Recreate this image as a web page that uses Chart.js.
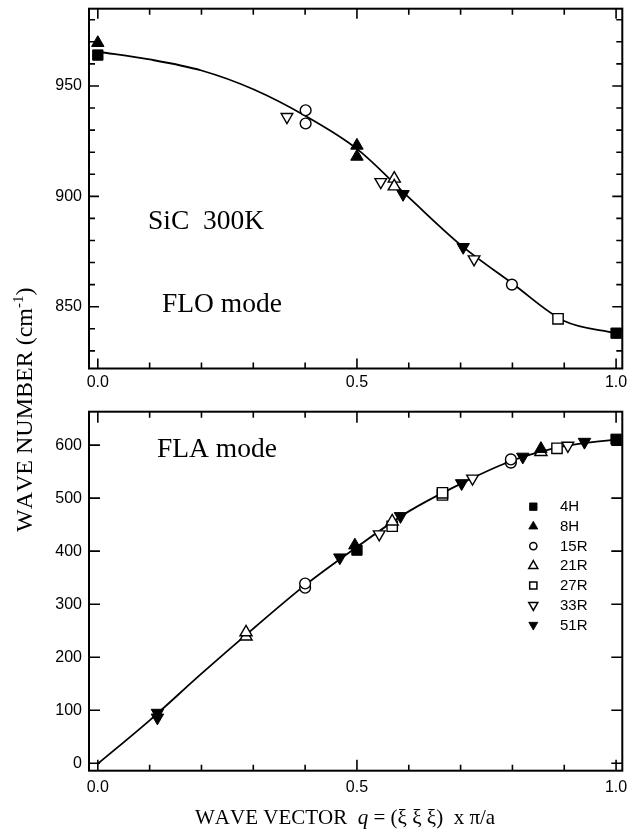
<!DOCTYPE html>
<html><head><meta charset="utf-8">
<script src="https://cdn.jsdelivr.net/npm/chart.js@4.4.1/dist/chart.umd.min.js"></script>
<style>
html,body{margin:0;padding:0;background:#fff;}
#wrap{position:relative;width:631px;height:833px;overflow:hidden;background:#fff;}
canvas{position:absolute;left:0;}
.ttl{position:absolute;font-family:"Liberation Serif","Times New Roman",serif;color:#000;white-space:nowrap;font-kerning:none;}
</style></head>
<body><div id="wrap">
<canvas id="c1" width="631" height="400" style="top:0px"></canvas>
<canvas id="c2" width="631" height="433" style="top:400px"></canvas>
<div id="ytitle" class="ttl" style="font-size:24px;line-height:24px;">WAVE NUMBER (cm<span style="font-size:15px;position:relative;top:-9px">-1</span>)</div>
<div id="xtitle" class="ttl" style="font-size:21px;line-height:21px;">WAVE VECTOR&nbsp;&nbsp;<i>q</i> = (ξ ξ ξ)&nbsp;&nbsp;x π/a</div>
</div>
<script>
// ---------- data ----------
const qGrid = [0, 0.1, 0.2, 0.3, 0.4, 0.5, 0.6, 0.7, 0.8, 0.9, 1.0];
const floFit = [965.5, 962, 957, 948.5, 936.5, 921.5, 899.5, 878, 860.5, 843.5, 838];
const flaFit = [-1, 81, 169, 254, 336, 408, 475, 527, 571, 598, 611];

const seriesNames = ['4H', '8H', '15R', '21R', '27R', '33R', '51R'];

const flo4H  = [[0, 964], [1.0, 838]];
const flo8H  = [[0, 969.5], [0.5, 923], [0.5, 918]];
const flo15R = [[0.401, 939], [0.401, 933], [0.799, 860]];
const flo21R = [[0.572, 908], [0.572, 904.5]];
const flo27R = [[0.888, 844.5]];
const flo33R = [[0.365, 936], [0.546, 906.5], [0.726, 871.5]];
const flo51R = [[0.589, 901], [0.705, 877]];

const fla4H  = [[0.5, 402], [1.0, 611]];
const fla8H  = [[0.496, 411], [0.855, 593]];
const fla15R = [[0.4, 331], [0.4, 339], [0.797, 567], [0.797, 573]];
const fla21R = [[0.286, 239], [0.286, 247], [0.568, 456], [0.855, 587]];
const fla27R = [[0.568, 447], [0.665, 506], [0.665, 510], [0.886, 594]];
const fla33R = [[0.543, 432], [0.723, 537], [0.907, 599]];
const fla51R = [[0.115, 86], [0.115, 95], [0.467, 388], [0.584, 466], [0.702, 528], [0.820, 578], [0.939, 606]];

const xTickLabels = [0, 0.5, 1.0];
const xTickMarks = [0, 0.1, 0.2, 0.3, 0.4, 0.5, 0.6, 0.7, 0.8, 0.9, 1.0];
const floYTickLabels = [850, 900, 950];
const floYTickMarks = [830, 840, 850, 860, 870, 880, 890, 900, 910, 920, 930, 940, 950, 960, 970, 980];
const flaYTickLabels = [0, 100, 200, 300, 400, 500, 600];
const flaYTickMarks = [0, 100, 200, 300, 400, 500, 600];

// ---------- styles ----------
const markerStyle = {
  '4H':  {pointStyle: 'rect',     rotation: 0,   filled: true,  r: 7.3, lr: 5.3},
  '8H':  {pointStyle: 'triangle', rotation: 0,   filled: true,  r: 7.2, lr: 5.2},
  '15R': {pointStyle: 'circle',   rotation: 0,   filled: false, r: 5.4, lr: 3.6},
  '21R': {pointStyle: 'triangle', rotation: 0,   filled: false, r: 7,   lr: 5.2},
  '27R': {pointStyle: 'rect',     rotation: 0,   filled: false, r: 7.3, lr: 5.1},
  '33R': {pointStyle: 'triangle', rotation: 180, filled: false, r: 6.7, lr: 5.2},
  '51R': {pointStyle: 'triangle', rotation: 180, filled: true,  r: 7.2, lr: 5.2}
};

Chart.defaults.font.family = '"Liberation Sans", Arial, sans-serif';
Chart.defaults.font.size = 16;
Chart.defaults.color = '#000';

function toXY(arr) { return arr.map(p => ({x: p[0], y: p[1]})); }

function makeDatasets(seriesArrays, fitValues) {
  const ds = seriesNames.map((name, i) => {
    const st = markerStyle[name];
    return {
      label: name, data: toXY(seriesArrays[i]), showLine: false,
      pointStyle: st.pointStyle, pointRotation: st.rotation,
      pointRadius: st.r, pointHoverRadius: st.r,
      pointBackgroundColor: st.filled ? '#000' : '#fff',
      pointBorderColor: '#000', pointBorderWidth: st.filled ? 1 : 1.4,
      order: 1, clip: false
    };
  });
  ds.push({
    label: 'fit', data: qGrid.map((q, i) => ({x: q, y: fitValues[i]})),
    showLine: true, borderColor: '#000', borderWidth: 1.8, pointRadius: 0,
    cubicInterpolationMode: 'monotone', fill: false, order: 5
  });
  return ds;
}

function near(list, v) { return list.some(t => Math.abs(t - v) < 1e-6); }

function framePlugin(cfg) {
  return {
    id: 'frame',
    beforeDatasetsDraw(chart) {
      const ctx = chart.ctx, a = chart.chartArea, xs = chart.scales.x, ys = chart.scales.y;
      ctx.save();
      ctx.strokeStyle = '#000';
      ctx.lineWidth = 2;
      ctx.strokeRect(a.left, a.top, a.right - a.left, a.bottom - a.top);
      ctx.lineWidth = 1.6;
      ctx.beginPath();
      cfg.xMarks.forEach(v => {
        const px = xs.getPixelForValue(v);
        const len = near(cfg.xMajor, v) ? cfg.major : cfg.minor;
        ctx.moveTo(px, a.bottom); ctx.lineTo(px, a.bottom - len);
        ctx.moveTo(px, a.top); ctx.lineTo(px, a.top + len);
      });
      cfg.yMarks.forEach(v => {
        const py = ys.getPixelForValue(v);
        const len = near(cfg.yMajor, v) ? cfg.major : cfg.minor;
        ctx.moveTo(a.left, py); ctx.lineTo(a.left + len, py);
        ctx.moveTo(a.right, py); ctx.lineTo(a.right - len, py);
      });
      ctx.stroke();
      ctx.restore();
    },
    afterDraw(chart) {
      const ctx = chart.ctx;
      ctx.save();
      ctx.fillStyle = '#000';
      ctx.textBaseline = 'alphabetic';
      ctx.textAlign = 'left';
      ctx.font = '27.5px "Liberation Serif", serif';
      (cfg.texts || []).forEach(t => ctx.fillText(t.s, t.x, t.y));
      if (cfg.legend) {
        const L = cfg.legend;
        seriesNames.forEach((name, i) => {
          const st = markerStyle[name];
          const y = L.y0 + i * L.dy;
          ctx.fillStyle = st.filled ? '#000' : '#fff';
          ctx.strokeStyle = '#000';
          ctx.lineWidth = st.filled ? 0.8 : 1.5;
          Chart.helpers.drawPoint(ctx, {pointStyle: st.pointStyle, rotation: st.rotation, radius: st.lr, borderWidth: ctx.lineWidth}, L.mx, y);
          ctx.fillStyle = '#000';
          ctx.font = '15px "Liberation Sans", Arial, sans-serif';
          ctx.textBaseline = 'middle';
          ctx.fillText(name, L.tx, y + 0.5);
        });
      }
      ctx.restore();
    }
  };
}

function makeOptions(o) {
  return {
    responsive: false, animation: false, events: [],
    devicePixelRatio: 1,
    layout: {padding: {left: 0, right: 8, top: o.padTop, bottom: 0}},
    plugins: {legend: {display: false}, tooltip: {enabled: false}},
    scales: {
      x: {
        type: 'linear', position: 'bottom', min: -0.017, max: 1.012,
        grid: {display: false, drawTicks: false}, border: {display: false},
        ticks: {padding: o.xPad, autoSkip: false, maxRotation: 0, callback: v => Number(v).toFixed(1)},
        afterBuildTicks: s => { s.ticks = xTickLabels.map(v => ({value: v})); },
        afterFit: s => { s.height = o.xH; s.paddingLeft = 0; s.paddingRight = 0; }
      },
      y: {
        type: 'linear', position: 'left', min: o.yMin, max: o.yMax,
        grid: {display: false, drawTicks: false}, border: {display: false},
        ticks: {padding: 7, autoSkip: false},
        afterBuildTicks: s => { s.ticks = o.yLabels.map(v => ({value: v})); },
        afterFit: s => { s.width = 89; s.paddingTop = 0; s.paddingBottom = 0; }
      }
    }
  };
}

new Chart(document.getElementById('c1'), {
  type: 'scatter',
  data: {datasets: makeDatasets([flo4H, flo8H, flo15R, flo21R, flo27R, flo33R, flo51R], floFit)},
  options: makeOptions({padTop: 6.7, xH: 31.5, xPad: 4, yMin: 822, yMax: 985, yLabels: floYTickLabels}),
  plugins: [framePlugin({
    xMarks: xTickMarks, xMajor: xTickLabels, yMarks: floYTickMarks, yMajor: floYTickLabels,
    major: 10, minor: 6,
    texts: [{s: 'SiC  300K', x: 148, y: 229}, {s: 'FLO mode', x: 162, y: 311.5}]
  })]
});

new Chart(document.getElementById('c2'), {
  type: 'scatter',
  data: {datasets: makeDatasets([fla4H, fla8H, fla15R, fla21R, fla27R, fla33R, fla51R], flaFit)},
  options: makeOptions({padTop: 11.7, xH: 62.3, xPad: 7.5, yMin: -14, yMax: 663, yLabels: flaYTickLabels}),
  plugins: [framePlugin({
    xMarks: xTickMarks, xMajor: xTickLabels, yMarks: flaYTickMarks, yMajor: flaYTickLabels,
    major: 11, minor: 6,
    texts: [{s: 'FLA mode', x: 157, y: 56.5}],
    legend: {mx: 533.3, tx: 560, y0: 106.7, dy: 19.7}
  })]
});

// axis titles (HTML text)
const yt = document.getElementById('ytitle');
const yw = yt.offsetWidth;
yt.style.transformOrigin = '0 0';
yt.style.transform = 'rotate(-90deg)';
yt.style.left = (32.5 - 20.1) + 'px';
yt.style.top = (410 + yw / 2) + 'px';

const xt = document.getElementById('xtitle');
const xw = xt.offsetWidth;
xt.style.left = (345 - xw / 2) + 'px';
xt.style.top = '807.4px';
</script>
</body></html>
